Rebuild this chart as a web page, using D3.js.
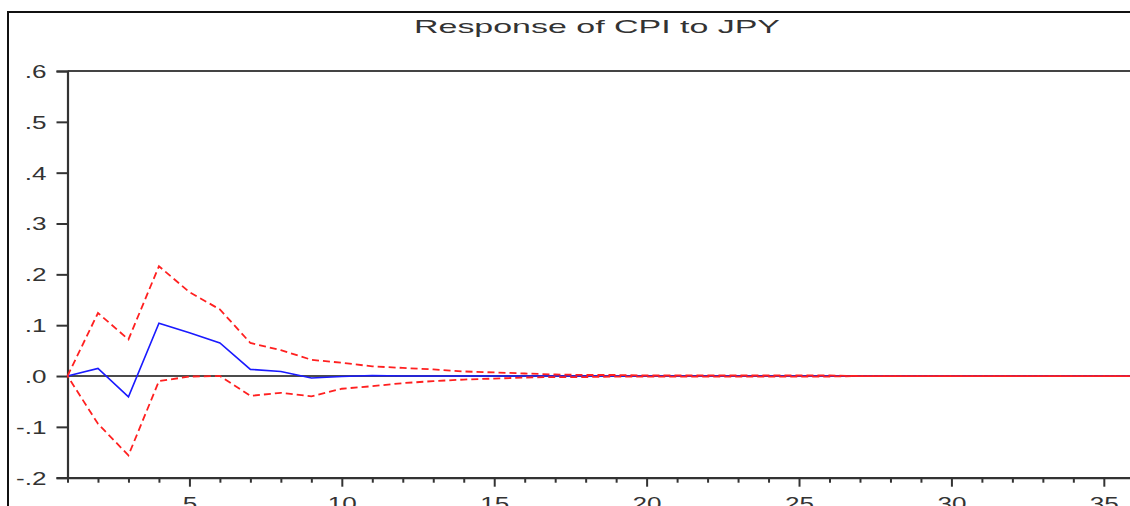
<!DOCTYPE html>
<html>
<head>
<meta charset="utf-8">
<script src="https://cdn.jsdelivr.net/npm/d3@7"></script>
<style>
html,body{margin:0;padding:0;background:#fff;}
svg{display:block;}
text{font-family:"Liberation Sans",Arial,sans-serif;fill:#333;}
</style>
</head>
<body>
<svg id="chart" width="1130" height="506"></svg>
<script>
const title = "Response of CPI to JPY";
const periods = [1,2,3,4,5,6,7,8,9,10,11,12,13,14,15,16,17,18,19,20,21,22,23,24,25,26,27,28,29,30,31,32,33,34,35,36];
const response = [0, 0.015, -0.041, 0.104, 0.085, 0.065, 0.013, 0.009, -0.004, -0.001, 0.001, 0, 0, 0, 0, 0, 0, 0, 0, 0, 0, 0, 0, 0, 0, 0, 0, 0, 0, 0, 0, 0, 0, 0, 0, 0];
const upper = [0, 0.124, 0.072, 0.216, 0.165, 0.131, 0.065, 0.051, 0.032, 0.026, 0.019, 0.016, 0.013, 0.009, 0.007, 0.005, 0.003, 0.002, 0.002, 0.001, 0.001, 0.001, 0.001, 0.001, 0.001, 0.001, 0, 0, 0, 0, 0, 0, 0, 0, 0, 0];
const lower = [0, -0.094, -0.156, -0.010, -0.001, 0.000, -0.039, -0.033, -0.040, -0.025, -0.020, -0.014, -0.010, -0.007, -0.005, -0.003, -0.002, -0.002, -0.001, -0.001, -0.001, -0.001, -0.001, -0.001, -0.001, -0.001, 0, 0, 0, 0, 0, 0, 0, 0, 0, 0];
const yTicks = [-0.2, -0.1, 0, 0.1, 0.2, 0.3, 0.4, 0.5, 0.6];
const yTickLabels = ["-.2", "-.1", ".0", ".1", ".2", ".3", ".4", ".5", ".6"];
const xLabelTicks = [5, 10, 15, 20, 25, 30, 35];

const svg = d3.select("#chart");
const plotLeft = 67.5, plotTop = 71, plotBottom = 477.7;
const x = d3.scaleLinear().domain([1, 36]).range([plotLeft, plotLeft + 35 * 30.48]);
const y = d3.scaleLinear().domain([-0.2, 0.6]).range([plotBottom, plotTop]);
const hs = 1.45; // horizontal stretch of text

// outer border
svg.append("rect").attr("x", 8).attr("y", 12).attr("width", 1140).attr("height", 520)
  .attr("fill", "none").attr("stroke", "#111").attr("stroke-width", 2);

// title
svg.append("text").attr("x", 414).attr("y", 33)
  .attr("font-size", 19).attr("textLength", 366).attr("lengthAdjust", "spacingAndGlyphs")
  .text(title);

// plot frame top
svg.append("line").attr("x1", plotLeft).attr("x2", 1140).attr("y1", plotTop).attr("y2", plotTop)
  .attr("stroke", "#444").attr("stroke-width", 2);

// y axis
const yAxis = d3.axisLeft(y).tickValues(yTicks).tickSize(11).tickPadding(0).tickFormat(() => "");
const gy = svg.append("g").attr("transform", `translate(${plotLeft},0)`).call(yAxis);
gy.select(".domain").attr("stroke", "#333").attr("stroke-width", 2.2);
gy.selectAll(".tick line").attr("stroke", "#333").attr("stroke-width", 2);
gy.selectAll(".tick").each(function(d) {
  d3.select(this).append("text")
    .attr("transform", `translate(-21,0) scale(${hs},1)`)
    .attr("text-anchor", "end").attr("dy", "0.36em")
    .attr("font-size", 18).attr("fill", "#333")
    .text(yTickLabels[yTicks.indexOf(d)]);
});

// x axis
const xAxis = d3.axisBottom(x).tickValues(periods).tickSizeOuter(0).tickFormat(() => "");
const gx = svg.append("g").attr("transform", `translate(0,${plotBottom})`).call(xAxis);
gx.select(".domain").attr("stroke", "#333").attr("stroke-width", 2.2);
gx.selectAll(".tick line").attr("stroke", "#333").attr("stroke-width", 2)
  .attr("y2", d => xLabelTicks.includes(d) ? 9 : 5);
gx.selectAll(".tick").filter(d => xLabelTicks.includes(d)).append("text")
  .attr("transform", `translate(0,32) scale(${hs},1)`)
  .attr("text-anchor", "middle").attr("font-size", 18).attr("fill", "#333")
  .text(d => d);

// zero line
svg.append("line").attr("x1", plotLeft).attr("x2", 1140).attr("y1", y(0)).attr("y2", y(0))
  .attr("stroke", "#111").attr("stroke-width", 1.5);

const line = d3.line().x((d, i) => x(periods[i])).y(d => y(d));

svg.append("path").datum(response).attr("d", line)
  .attr("fill", "none").attr("stroke", "#1a1aff").attr("stroke-width", 1.6);

svg.append("path").datum(upper).attr("d", line)
  .attr("fill", "none").attr("stroke", "#ff2020").attr("stroke-width", 1.8)
  .attr("stroke-dasharray", "7,4");
svg.append("path").datum(lower).attr("d", line)
  .attr("fill", "none").attr("stroke", "#ff2020").attr("stroke-width", 1.8)
  .attr("stroke-dasharray", "7,4").attr("stroke-dashoffset", 5);
</script>
</body>
</html>
